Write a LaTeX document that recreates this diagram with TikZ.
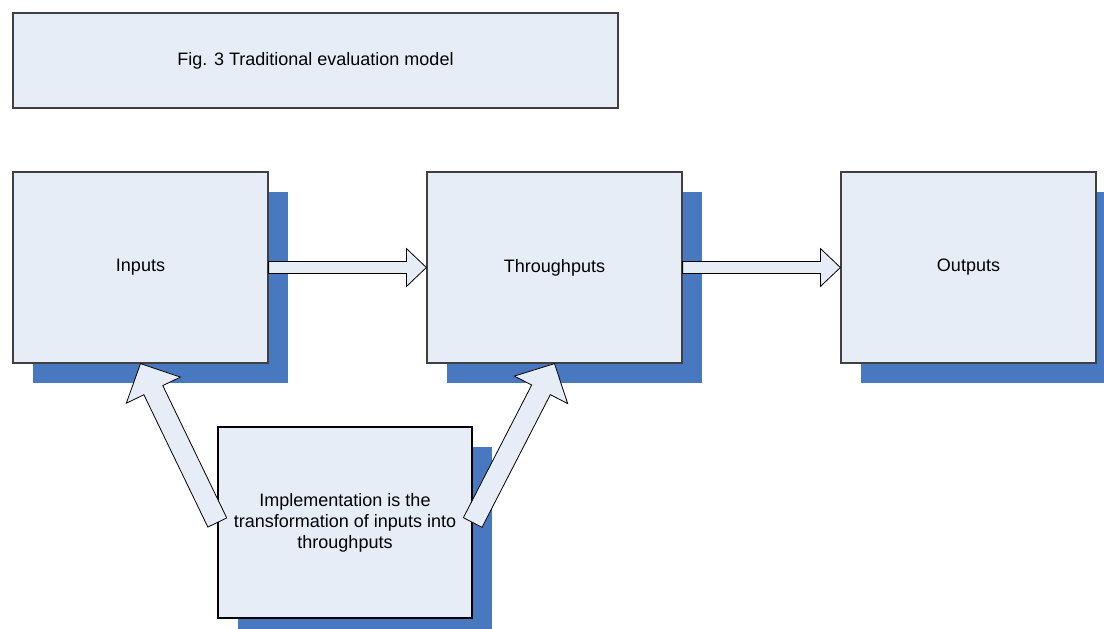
\documentclass[tikz,border=0pt]{standalone}
\usepackage{fontspec}
\setmainfont{Liberation Sans}
\usetikzlibrary{positioning,calc,shadows}
\definecolor{boxfill}{RGB}{230,237,247}
\definecolor{shadowblue}{RGB}{71,120,192}
\definecolor{boxline}{RGB}{64,64,64}

\begin{document}
\begin{tikzpicture}[x=1pt, y=-1pt,
    stage/.style={draw=boxline, line width=1.2pt, fill=boxfill,
      minimum width=255pt, minimum height=191pt, inner sep=0pt,
      align=center, font=\fontsize{18}{21}\selectfont,
      drop shadow={shadow xshift=20pt, shadow yshift=-20pt,
        fill=shadowblue, opacity=1}},
    blockarrow/.style={draw=black, line width=0.8pt, fill=boxfill,
      line join=miter}]
    \clip (0, 0) rectangle (1104, 629);

    % caption box
    \node[draw=boxline, line width=1.2pt, fill=boxfill, minimum width=605pt,
      minimum height=95pt, font=\fontsize{18}{21}\selectfont]
      (title) at (315.5, 60.5) {Fig. 3 Traditional evaluation model};

    % the three stages and the implementation note
    \node[stage] (inputs) at (140.5, 267.5) {Inputs};
    \node[stage, right=157.8pt of inputs] (thru) {Throughputs};
    \node[stage, right=157.8pt of thru] (outputs) {Outputs};
    \node[stage, draw=black, line width=1.4pt, minimum width=254pt]
      (impl) at (345, 522.5)
      {Implementation is the\\transformation of inputs into\\throughputs};

    % block arrows: from/to/shaft half width/head half width/head length
    \foreach \from/\to/\shaft/\head/\len in {
        inputs.east/thru.west/6/19/20,
        thru.east/outputs.west/6/19/20,
        impl.west/inputs.south/10.5/30/29.5,
        impl.east/thru.south/10.5/30/29.5} {
      \coordinate (neck) at ($(\to)!\len pt!(\from)$);
      \draw[blockarrow]
        ($(\from)!\shaft pt!90:(\to)$) -- ($(neck)!\shaft pt!90:(\to)$)
        -- ($(neck)!\head pt!90:(\to)$) -- (\to)
        -- ($(neck)!\head pt!-90:(\to)$) -- ($(neck)!\shaft pt!-90:(\to)$)
        -- ($(\from)!\shaft pt!-90:(\to)$) -- cycle;
    }
  \end{tikzpicture}
\end{document}
